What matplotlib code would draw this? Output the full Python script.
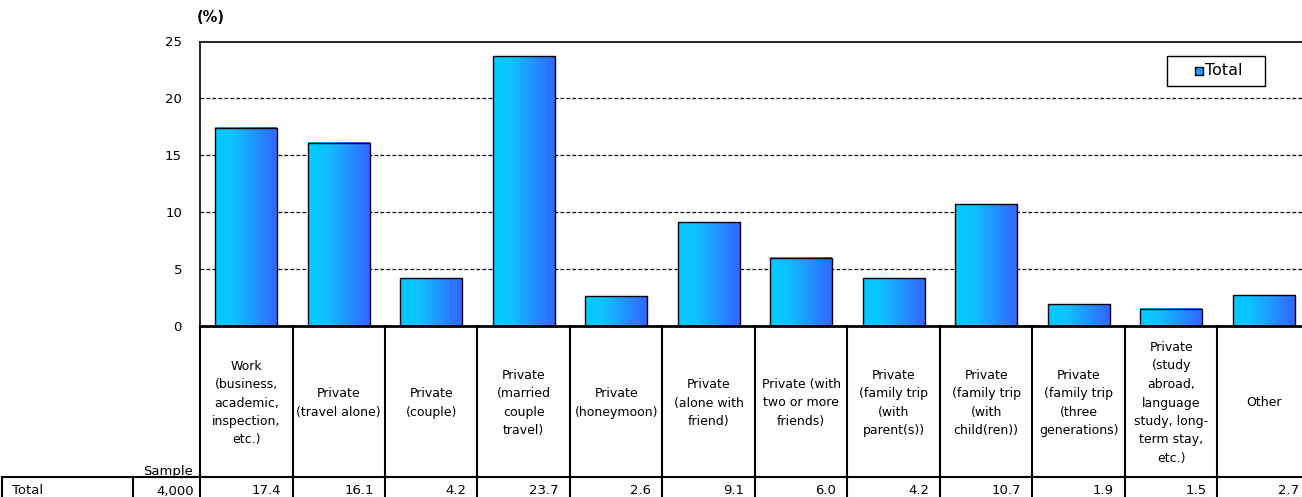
import numpy as np
import matplotlib
matplotlib.use("Agg")
import matplotlib.pyplot as plt
from matplotlib.patches import Rectangle
from matplotlib.transforms import blended_transform_factory
from matplotlib.colors import LinearSegmentedColormap

categories = [
    "Work\n(business,\nacademic,\ninspection,\netc.)",
    "Private\n(travel alone)",
    "Private\n(couple)",
    "Private\n(married\ncouple\ntravel)",
    "Private\n(honeymoon)",
    "Private\n(alone with\nfriend)",
    "Private (with\ntwo or more\nfriends)",
    "Private\n(family trip\n(with\nparent(s))",
    "Private\n(family trip\n(with\nchild(ren))",
    "Private\n(family trip\n(three\ngenerations)",
    "Private\n(study\nabroad,\nlanguage\nstudy, long-\nterm stay,\netc.)",
    "Other",
]
total_pct = [17.4, 16.1, 4.2, 23.7, 2.6, 9.1, 6.0, 4.2, 10.7, 1.9, 1.5, 2.7]
sample_size = 4000
row_label = "Total"
series_name = "Total"
yticks = [0, 5, 10, 15, 20, 25]

W, H = 1302, 497
fig = plt.figure(figsize=(W / 100, H / 100), dpi=100)
plt.rcParams["font.family"] = ["DejaVu Sans"]

def fx(px):
    return px / W

def fy(py):
    return 1 - py / H

col_w = 92.5
ax_left, ax_top, ax_bottom = 200, 41.5, 326
n = len(categories)
ax = fig.add_axes([fx(ax_left), fy(ax_bottom), fx(col_w * n), (ax_bottom - ax_top) / H])

# dashed horizontal gridlines behind the bars
for v in yticks[1:-1]:
    ax.axhline(v, color="black", lw=0.9, ls=(0, (3, 1.8)), zorder=0)

grad = LinearSegmentedColormap.from_list(
    "bar", [(0.0, "#00CCFF"), (0.3, "#10C0FF"), (1.0, "#3366FF")])
g = np.linspace(0, 1, 256).reshape(1, -1)

x = np.arange(n)
bars = ax.bar(x, total_pct, width=0.67, facecolor="none", edgecolor="black",
              lw=1.0, zorder=3)
for b in bars:
    x0, w, h = b.get_x(), b.get_width(), b.get_height()
    ax.imshow(g, cmap=grad, aspect="auto", extent=(x0, x0 + w, 0, h),
              interpolation="bilinear", zorder=2)
ax.set_xlim(-0.5, n - 0.5)
ax.set_ylim(0, 25)

ax.spines["right"].set_visible(False)
ax.spines["top"].set_linewidth(1.2)
ax.spines["left"].set_linewidth(1.2)
ax.spines["bottom"].set_linewidth(2.0)
ax.set_xticks([])
ax.set_yticks(yticks)
ax.tick_params(axis="y", length=0, pad=13, labelsize=9.5)

fig.text(fx(211), fy(18), "(%)", ha="center", va="center", fontsize=10.5,
         fontweight="semibold")

# legend box with a single series key
fig.add_artist(Rectangle((fx(1167), fy(86)), fx(98), 30 / H, transform=fig.transFigure,
                         facecolor="white", edgecolor="black", lw=1.0, zorder=5))
fig.add_artist(Rectangle((fx(1195), fy(75)), fx(8), 8 / H, transform=fig.transFigure,
                         facecolor="#1E9BFF", edgecolor="black", lw=1.0, zorder=6))
fig.text(fx(1205), fy(71), series_name, ha="left", va="center", fontsize=11.5, zorder=6)

# table beneath the axis
tr = blended_transform_factory(ax.transData, fig.transFigure)
line_kw = dict(color="black", lw=1.5, clip_on=False)
row_y = 477
for k in range(n + 1):
    xb = k - 0.5
    fig.add_artist(plt.Line2D([xb, xb], [fy(ax_bottom), fy(H + 5)], transform=tr, **line_kw))
fig.add_artist(plt.Line2D([fx(2), fx(W + 10)], [fy(row_y), fy(row_y)],
                          transform=fig.transFigure, **line_kw))
for xp in (2, 133):
    fig.add_artist(plt.Line2D([fx(xp), fx(xp)], [fy(row_y), fy(H + 5)],
                              transform=fig.transFigure, **line_kw))

for i, lab in enumerate(categories):
    fig.text(i, fy(403), lab, transform=tr, ha="center", va="center",
             fontsize=9.0, linespacing=1.55, multialignment="center")

fig.text(fx(193), fy(471), "Sample", ha="right", va="center", fontsize=9.5)
fig.text(fx(12), fy(491), row_label, ha="left", va="center", fontsize=9.5)
fig.text(fx(194), fy(491), f"{sample_size:,}", ha="right", va="center", fontsize=9.5)
for i, v in enumerate(total_pct):
    fig.text(i + 0.5 - 11 / col_w, fy(491), f"{v:.1f}", transform=tr,
             ha="right", va="center", fontsize=9.5)

fig.savefig("out.png", dpi=100)
